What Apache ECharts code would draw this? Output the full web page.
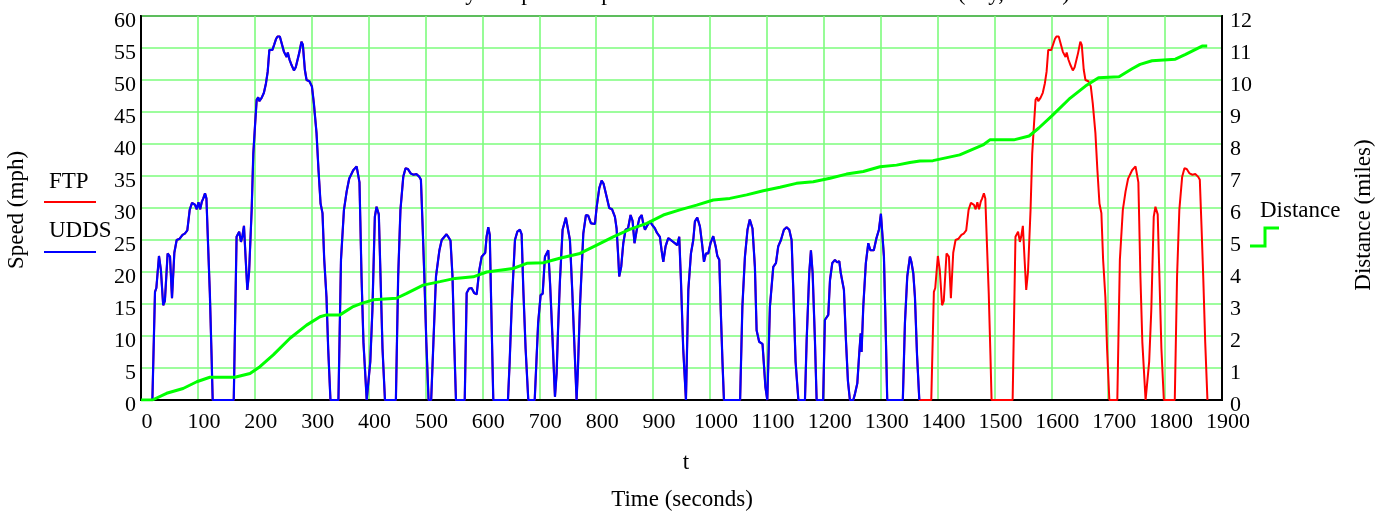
<!DOCTYPE html>
<html>
<head>
<meta charset="utf-8">
<script src="https://cdn.jsdelivr.net/npm/echarts@6/dist/echarts.min.js"></script>
<style>html,body{margin:0;padding:0;background:#fff;}#c{width:1388px;height:512px;}</style>
</head>
<body>
<div id="c"></div>
<script>
// ---- data (time s, value) ----
var timeTicks = [0,100,200,300,400,500,600,700,800,900,1000,1100,1200,1300,1400,1500,1600,1700,1800,1900];
var speedTicks = [0,5,10,15,20,25,30,35,40,45,50,55,60];
var distanceTicks = [0,1,2,3,4,5,6,7,8,9,10,11,12];

var uddsSpeed = [[0,0],[20,0],[24.6,16.9],[27,17.5],[31.6,22.5],[35,20.3],[39,14.8],[42,15.5],[46.8,22.9],[51,22.4],[54.5,15.9],[58.6,23],[62.7,25],[68,25.2],[73,25.8],[77,26],[81.4,26.5],[85.6,29.7],[89.7,30.8],[95,30.5],[98,29.8],[101,30.9],[104,29.8],[107,31],[109.5,31.5],[112.5,32.3],[115,31.5],[118,24],[121,16.7],[124,7],[126,0],[163,0],[168,25.5],[172.6,26.3],[175.7,24.7],[178,25.5],[181,27.2],[184,22],[186.9,17.2],[190,20],[194.5,29.7],[197.4,38.5],[200.5,43],[203.3,46.9],[206,47.3],[208,46.7],[212,47.2],[216,48],[219.7,49.5],[222.7,51.3],[225.6,54.7],[228,55],[231,54.7],[234,55.5],[237.3,56.4],[240,56.8],[244,56.8],[247,56.6],[251.3,54.4],[256,53.6],[258,54.3],[261,53.2],[264.8,52.3],[268.8,51.5],[272,52],[278,54.2],[282,56],[284.5,55.5],[288,51.6],[291,50],[296,49.8],[300.4,49],[303.8,46.4],[308.5,41.7],[312,35.9],[315.6,30.7],[319,29.2],[322,22],[326,16.1],[329,8],[333,0],[347,0],[351.5,21.9],[356.7,29.7],[361.5,32.6],[366,34.6],[369,34.8],[373,35.9],[376,36],[379,36.5],[382,36.3],[384,34],[385.5,28],[387.6,19.3],[391,9],[396.7,0],[400,0],[403,6],[406.7,14],[411,28.6],[414,30.2],[418,29],[421,19.3],[424.5,8],[428.8,0],[448,0],[452,19.3],[456,29.7],[461,34.9],[465,36.2],[469,36.1],[474,35.4],[479,35.2],[484,35.3],[489,34.9],[492,34.4],[495,27.1],[498,19.3],[501.5,9],[505.4,0],[510,0],[513.9,8.9],[518.5,19.3],[524.5,23.4],[528.5,25],[532,24.8],[537,25.9],[540,25.5],[544,24.9],[547.5,19.3],[550.5,9],[553.6,0],[569,0],[572.4,16.7],[576.4,17.4],[581,17.5],[585.8,16.7],[590,16.5],[594.6,20.3],[598.8,22.4],[601.6,22.4],[605,23],[607.4,25.5],[610.4,27],[613,25.8],[615.5,15],[619.2,0],[645,0],[648,6],[651.5,14.6],[657.3,25],[661.4,26.3],[666,26.6],[669,25.9],[672,17.2],[676,8],[680.7,0],[692,0],[695,6],[698,12],[702.4,16.4],[706,16.6],[710,22.4],[713,22.2],[715.8,23.4],[719,18.2],[723.4,9.4],[727.6,0.5],[730.5,4.2],[733,11],[736.4,18.75],[741,26.6],[746.8,28.5],[750,28.2],[753.9,25],[758,17],[762,8],[765.6,0],[768,5],[771.5,14.6],[777.4,26],[782,28.9],[786,28.8],[790.9,27.6],[797.9,27.5],[801,30.2],[805.5,33.1],[809.6,34.3],[813,33.8],[818.3,31.8],[823,30],[828,29.8],[833,28.6],[835.9,26.8],[838.8,22.4],[840.5,19.3],[844,20.8],[847.7,24.5],[851.7,26.6],[856,26.8],[860.5,28.9],[864,28],[867.4,24.5],[871.4,26.6],[876,28.4],[880,28.9],[882.7,27.6],[885.8,26.6],[890,27.3],[894.6,27.9],[899,27.3],[903.3,26.8],[907,26.1],[912,25.5],[915,23.4],[918,21.6],[922,24],[926.7,25.3],[930,25.5],[935.5,24.7],[939,25],[942.5,24.2],[946,25.5],[949,18.75],[953,8],[957.8,0],[962,17.2],[966.6,22.9],[970.7,25],[973.6,27.9],[977.7,28.5],[982.4,27.1],[986,24.5],[989.5,21.6],[993,22.9],[997,22.9],[1001,24.5],[1005.8,25.6],[1010,24],[1013,22.5],[1016.4,21.9],[1019,14],[1022,6],[1024.6,0],[1053,0],[1057,14.6],[1061.5,22.4],[1066,26.6],[1070,28.2],[1074.8,26.8],[1079,20.8],[1082,10.9],[1086.5,9.1],[1092.4,8.75],[1094.5,6],[1097.5,2],[1100.8,0],[1105.4,14.6],[1111.3,20.8],[1116,21.4],[1120,24],[1124.8,25],[1130,26.6],[1134.8,27],[1139.4,26.6],[1143.5,25],[1146.5,17.2],[1150.5,6],[1155.4,0],[1167,0],[1170,9.4],[1174.5,19.8],[1177.5,23.4],[1180.5,19.8],[1184.5,9.4],[1187.5,0],[1199,0],[1202,12.5],[1208,13.3],[1211,18.75],[1215,21.4],[1219.7,21.9],[1223.5,21.5],[1227.3,21.7],[1230,19.8],[1232.5,19.6],[1235.5,17.2],[1239,9.4],[1242.5,3],[1246,0],[1252,0],[1255,1],[1259,2.6],[1262.4,7.3],[1265,10.4],[1266.5,7.5],[1269.5,14.6],[1274,21.4],[1278.3,24.5],[1282,23.4],[1288,23.4],[1292.7,25.3],[1297,26.6],[1300.5,29.1],[1303,28.8],[1305.8,22.4],[1309.3,9.4],[1311.6,0],[1339,0],[1342.7,12],[1346.8,19.3],[1351.5,22.4],[1354,21.6],[1357.4,19.8],[1360.3,16.1],[1364,7],[1368,0],[1369,0]];

var hotStartSpeed = [[1389,0],[1393.6,16.9],[1396,17.5],[1400.6,22.5],[1404,20.3],[1408,14.8],[1411,15.5],[1415.8,22.9],[1420,22.4],[1423.5,15.9],[1427.6,23],[1431.7,25],[1437,25.2],[1442,25.8],[1446,26],[1450.4,26.5],[1454.6,29.7],[1458.7,30.8],[1464,30.5],[1467,29.8],[1470,30.9],[1473,29.8],[1476,31],[1478.5,31.5],[1481.5,32.3],[1484,31.5],[1487,24],[1490,16.7],[1493,7],[1495,0],[1532,0],[1537,25.5],[1541.6,26.3],[1544.7,24.7],[1547,25.5],[1550,27.2],[1553,22],[1555.9,17.2],[1559,20],[1563.5,29.7],[1566.4,38.5],[1569.5,43],[1572.3,46.9],[1575,47.3],[1577,46.7],[1581,47.2],[1585,48],[1588.7,49.5],[1591.7,51.3],[1594.6,54.7],[1597,55],[1600,54.7],[1603,55.5],[1606.3,56.4],[1609,56.8],[1613,56.8],[1616,56.6],[1620.3,54.4],[1625,53.6],[1627,54.3],[1630,53.2],[1633.8,52.3],[1637.8,51.5],[1641,52],[1647,54.2],[1651,56],[1653.5,55.5],[1657,51.6],[1660,50],[1665,49.8],[1669.4,49],[1672.8,46.4],[1677.5,41.7],[1681,35.9],[1684.6,30.7],[1688,29.2],[1691,22],[1695,16.1],[1698,8],[1702,0],[1716,0],[1720.5,21.9],[1725.7,29.7],[1730.5,32.6],[1735,34.6],[1738,34.8],[1742,35.9],[1745,36],[1748,36.5],[1751,36.3],[1753,34],[1754.5,28],[1756.6,19.3],[1760,9],[1765.7,0],[1769,0],[1772,6],[1775.7,14],[1780,28.6],[1783,30.2],[1787,29],[1790,19.3],[1793.5,8],[1797.8,0],[1817,0],[1821,19.3],[1825,29.7],[1830,34.9],[1834,36.2],[1838,36.1],[1843,35.4],[1848,35.2],[1853,35.3],[1858,34.9],[1861,34.4],[1864,27.1],[1867,19.3],[1870.5,9],[1874.4,0]];

var distance = [[0,0],[20,0],[45,0.21],[74,0.36],[98,0.57],[121,0.71],[165,0.71],[191.6,0.83],[209,1.04],[232.5,1.41],[261.9,1.93],[291,2.34],[314.6,2.6],[326,2.66],[349.7,2.66],[373,2.92],[387.6,3.02],[408,3.13],[449,3.18],[467,3.33],[496,3.59],[525.5,3.7],[552,3.8],[584,3.85],[607.5,4.0],[654,4.11],[678,4.27],[707,4.29],[736,4.43],[771.5,4.58],[801,4.84],[830,5.1],[859,5.33],[889,5.52],[918,5.78],[947,5.94],[976.6,6.09],[1005.8,6.25],[1035,6.3],[1064.5,6.41],[1093.7,6.54],[1123,6.65],[1152,6.77],[1181.6,6.82],[1211,6.93],[1240,7.06],[1269.5,7.14],[1298.8,7.29],[1328,7.34],[1351.5,7.42],[1369,7.47],[1392,7.48],[1439,7.66],[1480,7.97],[1492,8.13],[1534,8.13],[1561,8.25],[1578,8.5],[1601,8.88],[1631,9.4],[1660,9.81],[1683,10.07],[1719,10.1],[1742,10.35],[1756,10.49],[1777,10.6],[1818,10.65],[1836,10.8],[1865,11.06],[1874,11.06]];

var ftpSpeed = uddsSpeed.concat(hotStartSpeed);

var FONT = '"Liberation Serif", "Times New Roman", serif';
var GRIDC = '#7dfc7d';
var TICKFS = 22;
var TEXTFS = 23;

function yLabel(list) {
  return {color: '#000', fontFamily: FONT, fontSize: TICKFS, verticalAlign: 'top', lineHeight: 11,
    formatter: function (v) { return list.indexOf(v) >= 0 ? String(v) : ''; }};
}

var chart = echarts.init(document.getElementById('c'), null, {renderer: 'canvas'});
var yl = yLabel(speedTicks); yl.margin = 5;
var yr = yLabel(distanceTicks); yr.margin = 8;
chart.setOption({
  animation: false,
  backgroundColor: '#fff',
  grid: {left: 141, right: 166, top: 16, bottom: 112, show: true, borderColor: '#000', borderWidth: 2, backgroundColor: 'transparent'},
  xAxis: {
    type: 'value', min: 0, max: 1900, interval: 100,
    axisLine: {show: true, lineStyle: {color: '#000', width: 2}},
    axisTick: {show: false},
    axisLabel: {color: '#000', fontFamily: FONT, fontSize: TICKFS, margin: 11, padding: [0, 0, 0, 12],
      formatter: function (v) { return timeTicks.indexOf(v) >= 0 ? String(v) : ''; }},
    splitLine: {show: true, lineStyle: {color: GRIDC, width: 1.6}}
  },
  yAxis: [{
    type: 'value', min: 0, max: 60, interval: 5,
    axisLine: {show: true, lineStyle: {color: '#000', width: 2}},
    axisTick: {show: false},
    axisLabel: yl,
    splitLine: {show: true, lineStyle: {color: GRIDC, width: 1.6}}
  }, {
    type: 'value', min: 0, max: 12, interval: 1, position: 'right',
    axisLine: {show: true, lineStyle: {color: '#000', width: 2}},
    axisTick: {show: false},
    axisLabel: yr,
    splitLine: {show: false}
  }],
  series: [{
    name: 'FTP', type: 'line', data: ftpSpeed, showSymbol: false, symbol: 'none',
    lineStyle: {color: '#ff0000', width: 2}, itemStyle: {color: '#ff0000'}, z: 3
  }, {
    name: 'UDDS', type: 'line', data: uddsSpeed, showSymbol: false, symbol: 'none',
    lineStyle: {color: '#0000ff', width: 2.2}, itemStyle: {color: '#0000ff'}, z: 4
  }, {
    name: 'Distance', type: 'line', yAxisIndex: 1, data: distance, showSymbol: false, symbol: 'none',
    lineStyle: {color: '#00ff00', width: 3}, itemStyle: {color: '#00ff00'}, z: 5
  }],
  graphic: [
    {type: 'text', left: 400, top: -18, style: {text: 'Velocity and position profiles for FTP and UDDS schedules (city, urban)', font: TEXTFS + 'px ' + FONT, fill: '#000'}},
    {type: 'text', x: 17, y: 210, rotation: Math.PI / 2, style: {text: 'Speed (mph)', font: TEXTFS + 'px ' + FONT, fill: '#000', align: 'center', verticalAlign: 'middle'}},
    {type: 'text', x: 1364, y: 215, rotation: Math.PI / 2, style: {text: 'Distance (miles)', font: TEXTFS + 'px ' + FONT, fill: '#000', align: 'center', verticalAlign: 'middle'}},
    {type: 'text', x: 49, y: 182, style: {text: 'FTP', font: TEXTFS + 'px ' + FONT, fill: '#000', align: 'left', verticalAlign: 'middle'}},
    {type: 'line', shape: {x1: 44, y1: 202, x2: 96, y2: 202}, style: {stroke: '#ff0000', lineWidth: 2}},
    {type: 'text', x: 49, y: 231, style: {text: 'UDDS', font: TEXTFS + 'px ' + FONT, fill: '#000', align: 'left', verticalAlign: 'middle'}},
    {type: 'line', shape: {x1: 44, y1: 252, x2: 96, y2: 252}, style: {stroke: '#0000ff', lineWidth: 2}},
    {type: 'text', x: 1260, y: 211, style: {text: 'Distance', font: TEXTFS + 'px ' + FONT, fill: '#000', align: 'left', verticalAlign: 'middle'}},
    {type: 'polyline', shape: {points: [[1250, 246], [1265, 246], [1265, 228], [1279, 228]]}, style: {stroke: '#00ff00', lineWidth: 3, fill: null}},
    {type: 'text', x: 686, y: 463, style: {text: 't', font: TEXTFS + 'px ' + FONT, fill: '#000', align: 'center', verticalAlign: 'middle'}},
    {type: 'text', x: 682, y: 500, style: {text: 'Time (seconds)', font: TEXTFS + 'px ' + FONT, fill: '#000', align: 'center', verticalAlign: 'middle'}}
  ]
});
</script>
</body>
</html>
